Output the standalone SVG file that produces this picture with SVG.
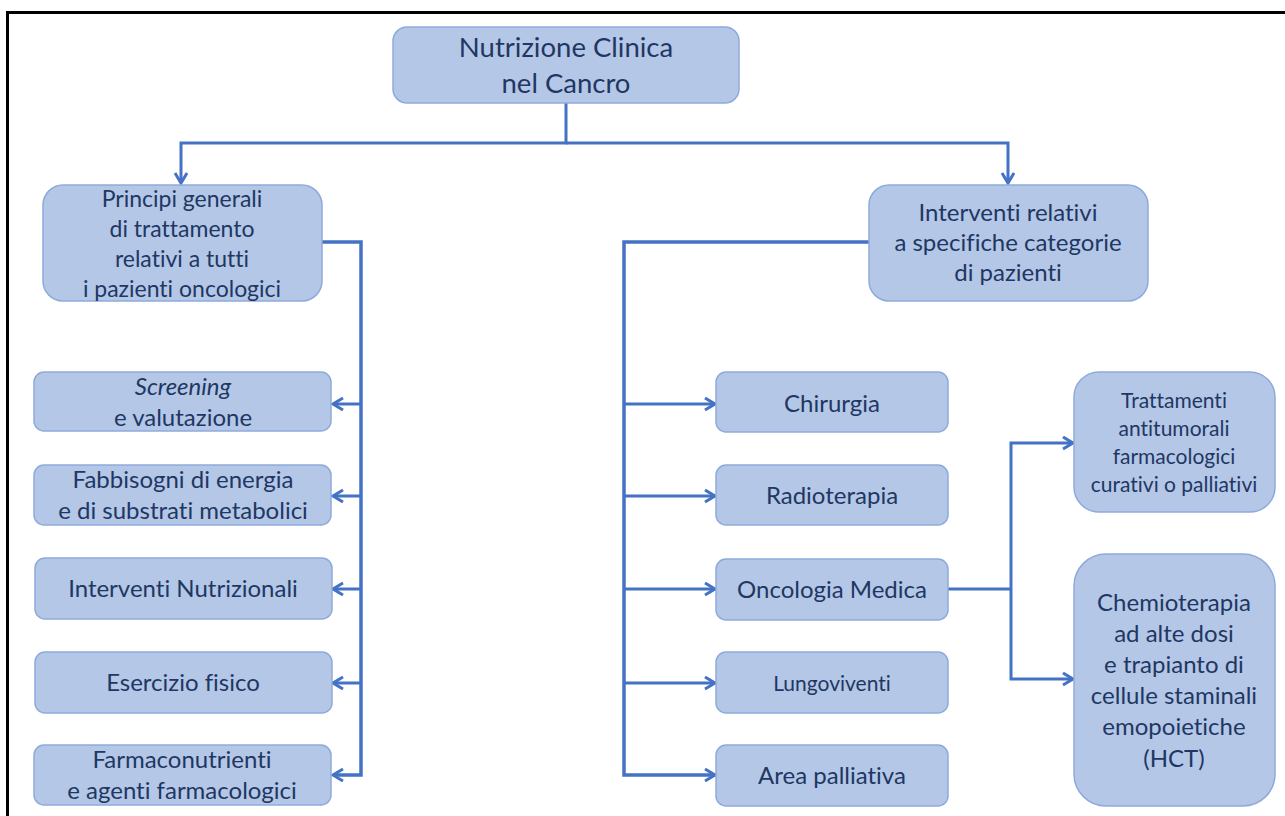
<svg xmlns="http://www.w3.org/2000/svg" width="1285" height="816" viewBox="0 0 1285 816">
<defs>
<marker id="arr" markerUnits="userSpaceOnUse" markerWidth="16" markerHeight="16" refX="11" refY="7" orient="auto">
<path d="M1,1 L11,7 L1,13" fill="none" stroke="#4472c4" stroke-width="3"/>
</marker>
<style>
.box{fill:#b4c7e7;stroke:#8eaadb;stroke-width:1.5}
.t{font-family:Lato,"Open Sans",sans-serif;fill:#1f3763;text-anchor:middle;font-variant-ligatures:none}
.m{font-size:24px}
.p{font-size:23px}
.r{font-size:27.5px}
.s{font-size:21px}
.c{fill:none;stroke:#4472c4;stroke-width:3}
.trunk{stroke-width:3.5}
</style>
</defs>
<rect width="1285" height="816" fill="#fff"/>
<rect x="7.5" y="12.5" width="1300" height="830" fill="none" stroke="#000" stroke-width="3"/>
<g id="connectors" class="c">
<path d="M566,103 V143 H181 V183" marker-end="url(#arr)"/>
<path d="M566,143 H1008 V183" marker-end="url(#arr)"/>
<path class="trunk" d="M322,242 H361 V775 H333" marker-end="url(#arr)"/>
<path d="M361,404 H333" marker-end="url(#arr)"/>
<path d="M361,496 H333" marker-end="url(#arr)"/>
<path d="M361,589 H333" marker-end="url(#arr)"/>
<path d="M361,683 H333" marker-end="url(#arr)"/>
<path class="trunk" d="M869,242 H624 V775 H715" marker-end="url(#arr)"/>
<path d="M624,404 H715" marker-end="url(#arr)"/>
<path d="M624,496 H715" marker-end="url(#arr)"/>
<path d="M624,589 H715" marker-end="url(#arr)"/>
<path d="M624,683 H715" marker-end="url(#arr)"/>
<path d="M948,589 H1011"/>
<path d="M1011,589 V443 H1073" marker-end="url(#arr)"/>
<path d="M1011,589 V679 H1073" marker-end="url(#arr)"/>
</g>
<g id="root">
<rect class="box" x="393" y="27" width="346" height="76" rx="14"/>
<text class="t r" x="566" y="57">Nutrizione Clinica</text>
<text class="t r" x="566" y="93">nel Cancro</text>
</g>
<g id="principi">
<rect class="box" x="43" y="185" width="279" height="116" rx="20"/>
<text class="t p" x="182" y="207">Principi generali</text>
<text class="t p" x="182" y="237">di trattamento</text>
<text class="t p" x="182" y="267">relativi a tutti</text>
<text class="t p" x="182" y="297">i pazienti oncologici</text>
</g>
<g id="interventi-relativi">
<rect class="box" x="869" y="185" width="279" height="116" rx="20"/>
<text class="t m" x="1008" y="221">Interventi relativi</text>
<text class="t m" x="1008" y="251">a specifiche categorie</text>
<text class="t m" x="1008" y="281">di pazienti</text>
</g>
<g id="screening">
<rect class="box" x="34" y="372" width="297" height="59" rx="10"/>
<text class="t m" x="183" y="395" font-style="italic">Screening</text>
<text class="t m" x="183" y="426">e valutazione</text>
</g>
<g id="fabbisogni">
<rect class="box" x="34" y="465" width="297" height="60" rx="10"/>
<text class="t m" x="183" y="488">Fabbisogni di energia</text>
<text class="t m" x="183" y="519">e di substrati metabolici</text>
</g>
<g id="interventi-nutrizionali">
<rect class="box" x="35" y="558" width="297" height="61" rx="10"/>
<text class="t m" x="183" y="597">Interventi Nutrizionali</text>
</g>
<g id="esercizio">
<rect class="box" x="35" y="652" width="297" height="61" rx="10"/>
<text class="t m" x="183" y="691">Esercizio fisico</text>
</g>
<g id="farmaconutrienti">
<rect class="box" x="34" y="745" width="297" height="60" rx="10"/>
<text class="t m" x="182" y="768">Farmaconutrienti</text>
<text class="t m" x="182" y="799">e agenti farmacologici</text>
</g>
<g id="chirurgia">
<rect class="box" x="716" y="372" width="232" height="60" rx="10"/>
<text class="t m" x="832" y="412">Chirurgia</text>
</g>
<g id="radioterapia">
<rect class="box" x="716" y="465" width="232" height="60" rx="10"/>
<text class="t m" x="832" y="504">Radioterapia</text>
</g>
<g id="oncologia">
<rect class="box" x="716" y="559" width="232" height="61" rx="10"/>
<text class="t m" x="832" y="598">Oncologia Medica</text>
</g>
<g id="lungoviventi">
<rect class="box" x="716" y="652" width="232" height="61" rx="10"/>
<text class="t s" x="832" y="691">Lungoviventi</text>
</g>
<g id="palliativa">
<rect class="box" x="716" y="745" width="232" height="61" rx="10"/>
<text class="t m" x="832" y="784">Area palliativa</text>
</g>
<g id="trattamenti">
<rect class="box" x="1074" y="372" width="201" height="140" rx="25"/>
<text class="t s" x="1174" y="408">Trattamenti</text>
<text class="t s" x="1174" y="436">antitumorali</text>
<text class="t s" x="1174" y="464">farmacologici</text>
<text class="t s" x="1174" y="492">curativi o palliativi</text>
</g>
<g id="chemioterapia">
<rect class="box" x="1074" y="554" width="201" height="252" rx="32"/>
<text class="t m" x="1174" y="611">Chemioterapia</text>
<text class="t m" x="1174" y="642">ad alte dosi</text>
<text class="t m" x="1174" y="673">e trapianto di</text>
<text class="t m" x="1174" y="704">cellule staminali</text>
<text class="t m" x="1174" y="735">emopoietiche</text>
<text class="t m" x="1174" y="767">(HCT)</text>
</g>
</svg>
